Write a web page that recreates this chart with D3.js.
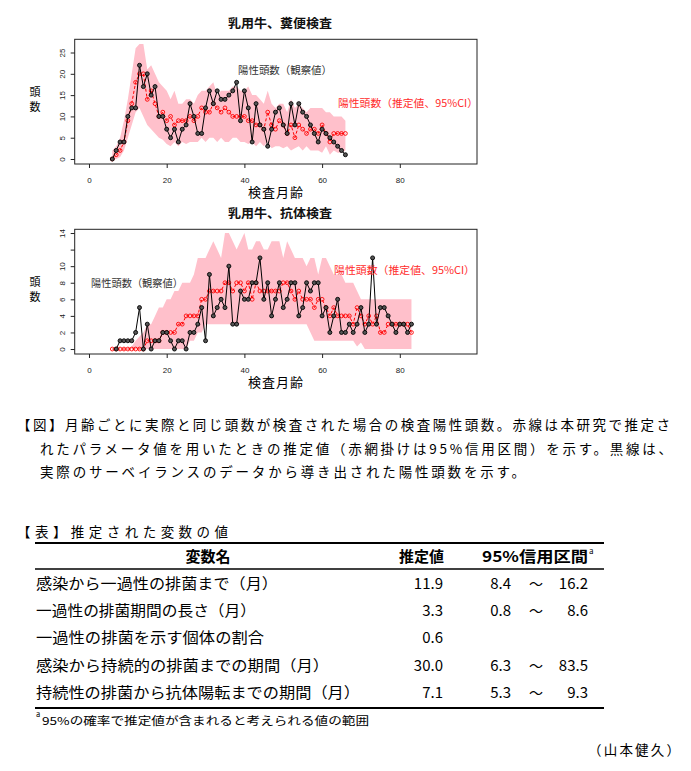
<!DOCTYPE html>
<html><head><meta charset="utf-8">
<script src="https://cdn.jsdelivr.net/npm/d3@7"></script>
<style>body{margin:0;background:#fff}svg{display:block}</style>
</head><body><svg id="c" width="691" height="771"></svg>
<script>
// ---------- data: 乳用牛、糞便検査 ----------
const fecesEstStart = 6;
const fecesObsStart = 6;
const fecesObserved = [0,2,4,4,10,12,12,22,17,20,15,17,10,10,7,5,7,4,7,8,13,10,6,6,12,16,13,16,14,14,15,16,18,9,16,12,4,13,8,7,3,7,11,12,8,6,13,8,13,11,10,8,6,4,7,6,5,4,3,2,1];
const fecesEstimated = [0,1,2,4,9,13,18,20,20,14,16,13,10,11,9,10,8,9,9,9,10,9,10,12,11,11,13,12,11,12,11,10,10,10,10,9,9,8,8,7,11,8,7,9,8,6,8,5,8,7,6,7,7,6,8,6,4,6,6,6,6];
const fecesUpper = [2,3,5,9,14,20,26,27,27,21,22,20,18,17,16,14,16,13,13,14,14,13,15,16,16,17,18,15,16,16,16,17,17,16,16,17,15,15,14,13,16,13,12,13,13,11,14,12,13,12,11,12,12,12,12,11,11,10,10,10,9];
const fecesLower = [0,0,0.5,2,5,8,11,12,10,8,7,6,5,4.5,3.5,3,4,3,4,3.5,4,4,4,5,4,5,5,4,5,4,4,5,5,4,4,3.5,4,3,4,3,4,2.5,3,3,2.5,3,2,2.5,3,2,3,2,2,2,1.5,3,1,2,1.5,1.5,2];
const fecesYTicks = [0,5,10,15,20,25];
const fecesYLabels = ["0","5","10","15","20","25"];

// ---------- data: 乳用牛、抗体検査 ----------
const abEstStart = 6;
const abObsStart = 7;
const abObserved = [0,1,1,1,1,2,5,0,3,0,1,1,2,2,1,0,1,1,0,2,2,3,5,1,9,4,5,6,5,10,3,3,7,6,6,8,8,11,6,8,4,6,8,5,6,8,8,4,5,8,7,8,8,4,5,2,4,6,2,2,3,2,3,5,2,3,11,3,5,5,4,3,2,3,3,2,3];
const abEstimated = [0,0,0,0,0,0,0,0,0,1,1,1,1,2,2,2,2,3,3,4,4,4,4,6,6,7,7,7,7,8,8,7,8,8,7,8,6,8,7,7,7,7,7,7,8,8,7,6,7,6,6,6,5,6,6,5,4,5,4,4,4,4,3,5,4,3,4,3,4,2,2,3,3,3,3,3,3,2];
const abUpper = [0,0,0,0,0,0.3,1,1.5,2,3,3,4,5,5,6,6,7,7,8,8,8,9,11,11,11,12,13,12,11,14,14,13,12,13,14,12,12,13,13,12,12,13,13,13,11,13,12,11,11,11,10,11,11,9,11,11,10,9,9,9,8,8,8,7,6,6,6,6,6,6,6,6,6,6,6,6,6,6];
const abLower = [0,0,0,0,0,0,0,0,0,0,0,0,0,0,0,0,0,0,0,0,1,1,2,2,3,3,3,3,3,3,3,3,3,3,3,3,3,3,3,3,3,3,3,3,3,3,3,3,3,3,3,2,1,1,1,1,1,1,1,1,1,1,1,0.3,0.8,0,0,0,0,0,0,0,0,0,0,0,0,0];
const abYTicks = [0,2,4,6,8,10,12,14];
const abYLabels = ["0","2","4","6","8","10","","14"];

const xTicks = [0,20,40,60,80];

// ---------- table ----------
const tableNames = ["感染から一過性の排菌まで（月）","一過性の排菌期間の長さ（月）","一過性の排菌を示す個体の割合","感染から持続的の排菌までの期間（月）","持続性の排菌から抗体陽転までの期間（月）"];
const tableEst = ["11.9","3.3","0.6","30.0","7.1"];
const tableLow = ["8.4","0.8","","6.3","5.3"];
const tableHigh = ["16.2","8.6","","83.5","9.3"];

const JP = "'Noto Sans CJK JP','Noto Sans',sans-serif";
const LAT = "'Liberation Sans',Arial,sans-serif";
const svg = d3.select("#c");

function panel(p){
  const g = svg.append("g");
  const x = d3.scaleLinear().domain([-3.68, 99.87]).range([74.7, 477]);
  const y = d3.scaleLinear().domain(p.yDomain).range([p.bottom, p.top]);
  const mE = p.upper.map((d,i)=>p.estStart+i);
  const mO = p.observed.map((d,i)=>p.obsStart+i);
  // band
  g.append("path").datum(p.upper)
    .attr("d", d3.area().x((d,i)=>x(mE[i])).y0((d,i)=>y(p.lower[i])).y1(d=>y(d)))
    .attr("fill","#ffc0cb");
  // estimated
  g.append("path").datum(p.estimated)
    .attr("d", d3.line().x((d,i)=>x(mE[i])).y(d=>y(d)))
    .attr("fill","none").attr("stroke","#ff0000").attr("stroke-width",1).attr("stroke-dasharray","3,2");
  g.selectAll(".e").data(p.estimated).join("circle")
    .attr("cx",(d,i)=>x(mE[i])).attr("cy",d=>y(d)).attr("r",1.9)
    .attr("fill","none").attr("stroke","#ff0000").attr("stroke-width",0.9);
  // observed
  g.append("path").datum(p.observed)
    .attr("d", d3.line().x((d,i)=>x(mO[i])).y(d=>y(d)))
    .attr("fill","none").attr("stroke","#000").attr("stroke-width",1);
  g.selectAll(".o").data(p.observed).join("circle")
    .attr("cx",(d,i)=>x(mO[i])).attr("cy",d=>y(d)).attr("r",2)
    .attr("fill","#555").attr("stroke","#000").attr("stroke-width",0.9);
  // box
  g.append("rect").attr("x",74.7).attr("y",p.top).attr("width",477-74.7).attr("height",p.bottom-p.top)
    .attr("fill","none").attr("stroke","#222").attr("stroke-width",1);
  // x axis
  const ax = g.append("g").attr("transform",`translate(0,${p.bottom})`)
    .call(d3.axisBottom(x).tickValues(xTicks).tickSize(4).tickPadding(9));
  ax.select(".domain").remove();
  ax.selectAll("line").attr("stroke","#222");
  ax.selectAll("text").attr("font-family",LAT).attr("font-size",8).attr("fill","#222");
  // y axis
  const ay = g.append("g").attr("transform","translate(74.7,0)")
    .call(d3.axisLeft(y).tickValues(p.yTicks).tickSize(4).tickFormat((d,i)=>p.yLabels[i]));
  ay.select(".domain").remove();
  ay.selectAll("line").attr("stroke","#222");
  ay.selectAll("text").attr("x",null).attr("dy","0.35em")
    .attr("transform","translate(-12.5,0) rotate(-90)").attr("text-anchor","middle")
    .attr("font-family",LAT).attr("font-size",8).attr("fill","#222");
  // texts
  g.append("text").attr("x",280).attr("y",p.top-11).attr("text-anchor","middle")
    .attr("font-family",JP).attr("font-weight","bold").attr("font-size",12.5).attr("fill","#111")
    .attr("textLength",104).attr("lengthAdjust","spacingAndGlyphs").text(p.title);
  g.append("text").attr("x",248).attr("y",p.bottom+33).attr("font-family",JP).attr("font-size",13)
    .attr("textLength",55).attr("lengthAdjust","spacing").text("検査月齢");
  g.append("text").attr("x",35).attr("y",p.top+57).attr("text-anchor","middle").attr("font-family",JP).attr("font-size",11).text("頭");
  g.append("text").attr("x",35).attr("y",p.top+72).attr("text-anchor","middle").attr("font-family",JP).attr("font-size",11).text("数");
  g.append("text").attr("x",p.obsLab[0]).attr("y",p.obsLab[1]).attr("font-family",JP).attr("font-size",10.5)
    .attr("fill","#333").attr("textLength",p.obsLab[2]).attr("lengthAdjust","spacingAndGlyphs").text("陽性頭数（観察値）");
  g.append("text").attr("x",p.estLab[0]).attr("y",p.estLab[1]).attr("font-family",JP).attr("font-size",10.5)
    .attr("fill","#ff2a2a").attr("textLength",p.estLab[2]).attr("lengthAdjust","spacingAndGlyphs").text("陽性頭数（推定値、95%CI）");
}

panel({title:"乳用牛、糞便検査", top:39.3, bottom:164, yDomain:[-1.17,28.1],
  estStart:fecesEstStart, obsStart:fecesObsStart, observed:fecesObserved, estimated:fecesEstimated,
  upper:fecesUpper, lower:fecesLower, yTicks:fecesYTicks, yLabels:fecesYLabels,
  obsLab:[238,74,94], estLab:[338,107,140]});
panel({title:"乳用牛、抗体検査", top:229.3, bottom:354, yDomain:[-0.6,14.45],
  estStart:abEstStart, obsStart:abObsStart, observed:abObserved, estimated:abEstimated,
  upper:abUpper, lower:abLower, yTicks:abYTicks, yLabels:abYLabels,
  obsLab:[91,287,92], estLab:[334,274,141]});

// caption
const cap = [
  {x:17, y:430, w:653, t:"【図】月齢ごとに実際と同じ頭数が検査された場合の検査陽性頭数。赤線は本研究で推定さ"},
  {x:40, y:454, w:632, t:"れたパラメータ値を用いたときの推定値（赤網掛けは95%信用区間）を示す。黒線は、"},
  {x:40, y:477, w:485, t:"実際のサーベイランスのデータから導き出された陽性頭数を示す。"}
];
cap.forEach(c=>svg.append("text").attr("x",c.x).attr("y",c.y).attr("font-family",JP).attr("font-size",13.5)
  .attr("textLength",c.w).attr("lengthAdjust","spacing").text(c.t));

// table
svg.append("text").attr("x",17).attr("y",537).attr("font-family",JP).attr("font-size",13.5)
  .attr("textLength",211).attr("lengthAdjust","spacing").text("【表】推定された変数の値");
[543,569,708].forEach(yy=>svg.append("line").attr("x1",35).attr("x2",604).attr("y1",yy).attr("y2",yy)
  .attr("stroke","#000").attr("stroke-width",yy===569?1.6:2));
svg.append("text").attr("x",208).attr("y",562).attr("text-anchor","middle").attr("font-family",JP)
  .attr("font-weight","bold").attr("font-size",15).text("変数名");
svg.append("text").attr("x",444).attr("y",562).attr("text-anchor","end").attr("font-family",JP)
  .attr("font-weight","bold").attr("font-size",15).text("推定値");
svg.append("text").attr("x",482).attr("y",562).attr("font-family",JP).attr("font-weight","bold").attr("font-size",15)
  .attr("textLength",106).attr("lengthAdjust","spacingAndGlyphs").text("95%信用区間");
svg.append("text").attr("x",589).attr("y",554).attr("font-family",JP).attr("font-size",8).text("a");
const rowY = [589,616,643,671,698];
const rowW = [242,220,228,293,324];
tableNames.forEach((n,i)=>{
  svg.append("text").attr("x",36).attr("y",rowY[i]).attr("font-family",JP).attr("font-size",15)
    .attr("textLength",rowW[i]).attr("lengthAdjust","spacingAndGlyphs").text(n);
  svg.append("text").attr("x",443).attr("y",rowY[i]).attr("text-anchor","end").attr("font-family",JP).attr("font-size",15).text(tableEst[i]);
  if(tableLow[i]){
    svg.append("text").attr("x",511).attr("y",rowY[i]).attr("text-anchor","end").attr("font-family",JP).attr("font-size",15).text(tableLow[i]);
    svg.append("text").attr("x",536).attr("y",rowY[i]).attr("text-anchor","middle").attr("font-family",JP).attr("font-size",14).text("～");
    svg.append("text").attr("x",588).attr("y",rowY[i]).attr("text-anchor","end").attr("font-family",JP).attr("font-size",15).text(tableHigh[i]);
  }
});
svg.append("text").attr("x",36).attr("y",717).attr("font-family",JP).attr("font-size",7.5).text("a");
svg.append("text").attr("x",42).attr("y",725).attr("font-family",JP).attr("font-size",11)
  .attr("textLength",327).attr("lengthAdjust","spacingAndGlyphs").text("95%の確率で推定値が含まれると考えられる値の範囲");
svg.append("text").attr("x",680).attr("y",755).attr("text-anchor","end").attr("font-family",JP).attr("font-size",13.5)
  .attr("textLength",92).attr("lengthAdjust","spacing").text("（山本健久）");
</script></body></html>
